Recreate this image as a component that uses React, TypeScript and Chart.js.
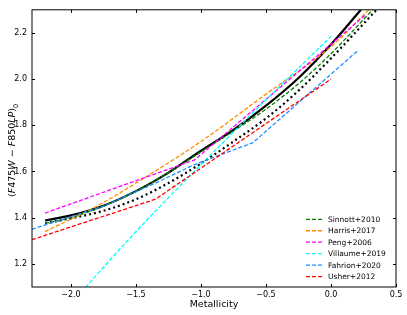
import React, { useEffect, useRef } from 'react';
import { Chart, registerables } from 'chart.js';
Chart.register(...registerables);

// ---- tick labels ----
const xTicks = [-2.0, -1.5, -1.0, -0.5, 0.0, 0.5];
const yTicks = [1.2, 1.4, 1.6, 1.8, 2.0, 2.2];

// ---- series (Metallicity -> colour) ----
const blackSolidX = [-2.2, -2.0, -1.75, -1.5, -1.25, -1.0, -0.75, -0.5, -0.25, 0.0, 0.23];
const blackSolidY = [1.388, 1.41, 1.452, 1.515, 1.595, 1.69, 1.78, 1.885, 2.005, 2.15, 2.3];

const blackDotX = [-2.2, -1.75, -1.5, -1.25, -1.0, -0.75, -0.5, -0.25, 0.0, 0.35];
const blackDotY = [1.375, 1.43, 1.48, 1.55, 1.635, 1.73, 1.83, 1.95, 2.09, 2.3];

const sinnottX = [-2.2, -2.0, -1.75, -1.5, -1.25, -1.0, -0.75, -0.5, -0.25, 0.0, 0.32];
const sinnottY = [1.375, 1.4, 1.45, 1.515, 1.595, 1.685, 1.775, 1.87, 1.98, 2.11, 2.3];

const harrisX = [-2.2, -1.8, -1.5, -1.0, -0.5, 0.0, 0.29];
const harrisY = [1.34, 1.45, 1.55, 1.73, 1.935, 2.14, 2.3];

const pengX = [-2.2, -1.05, 0.27];
const pengY = [1.42, 1.65, 2.28];

const villaumeX = [-1.95, -1.5, -1.0, -0.5, 0.0];
const villaumeY = [1.06, 1.34, 1.63, 1.91, 2.185];

const fahrionX = [-2.3, -1.75, -1.35, -1.05, -0.6, 0.2];
const fahrionY = [1.35, 1.45, 1.55, 1.63, 1.725, 2.12];

const usherX = [-2.3, -1.35, 0.0];
const usherY = [1.305, 1.48, 2.0];

const legendLabels = ['Sinnott+2010', 'Harris+2017', 'Peng+2006', 'Villaume+2019', 'Fahrion+2020', 'Usher+2012'];
const legendColors = ['#008000', '#ff8c00', '#ff00ff', '#00ffff', '#1e90ff', '#ff0000'];

const FONT = "'DejaVu Sans', sans-serif";

export default function App() {
  const ref = useRef<HTMLCanvasElement>(null);

  useEffect(() => {
    document.body.style.margin = '0';
    const canvas = ref.current!;
    const fmt = (v: number) => {
      const s = Math.abs(v) < 1e-9 ? '0.0' : v.toFixed(1);
      return s.replace('-', '\u2212');
    };
    const pts = (xs: number[], ys: number[]) => xs.map((x, i) => ({ x, y: ys[i] }));

    const dashed = (label: string, xs: number[], ys: number[], color: string, order: number, smooth: boolean) => ({
      label,
      data: pts(xs, ys),
      borderColor: color,
      backgroundColor: color,
      borderWidth: 1.3,
      borderDash: [4, 2],
      pointRadius: 0,
      fill: false,
      clip: 0,
      order,
      cubicInterpolationMode: smooth ? 'monotone' : 'default',
      tension: 0,
    });

    const framePlugin = {
      id: 'frameAndLegend',
      afterDraw(chart: any) {
        const { ctx, chartArea } = chart;
        const { left, right, top, bottom } = chartArea;
        const xs = chart.scales.x;
        const ys = chart.scales.y;
        ctx.save();
        // frame
        ctx.strokeStyle = '#000';
        ctx.lineWidth = 1;
        ctx.setLineDash([]);
        ctx.strokeRect(left, top, right - left, bottom - top);
        // inward ticks on all sides
        const tl = 3;
        ctx.beginPath();
        for (const v of xTicks) {
          const px = Math.round(xs.getPixelForValue(v)) + 0.5;
          ctx.moveTo(px, bottom);
          ctx.lineTo(px, bottom - tl);
          ctx.moveTo(px, top);
          ctx.lineTo(px, top + tl);
        }
        for (const v of yTicks) {
          const py = Math.round(ys.getPixelForValue(v)) + 0.5;
          ctx.moveTo(left, py);
          ctx.lineTo(left + tl, py);
          ctx.moveTo(right, py);
          ctx.lineTo(right - tl, py);
        }
        ctx.stroke();

        // legend (inside, lower right)
        const lx0 = 306;
        const lx1 = 322;
        const tx = 328;
        const y0 = 219.3;
        const dy = 11.45;
        ctx.font = `7.5px ${FONT}`;
        ctx.textBaseline = 'middle';
        ctx.textAlign = 'left';
        legendLabels.forEach((lab, i) => {
          const y = y0 + i * dy;
          ctx.strokeStyle = legendColors[i];
          ctx.lineWidth = 1.3;
          ctx.setLineDash([4, 2]);
          ctx.beginPath();
          ctx.moveTo(lx0, y);
          ctx.lineTo(lx1, y);
          ctx.stroke();
          ctx.setLineDash([]);
          ctx.fillStyle = '#000';
          ctx.fillText(lab, tx, y + 0.5);
        });

        // y-axis title: (F475W − F850LP)_0
        const size = 9.5;
        const segs: { t: string; it: boolean; sub?: boolean }[] = [
          { t: '(', it: false },
          { t: 'F', it: true },
          { t: '475', it: false },
          { t: 'W', it: true },
          { t: ' \u2212 ', it: false },
          { t: 'F', it: true },
          { t: '850', it: false },
          { t: 'LP', it: true },
          { t: ')', it: false },
          { t: '0', it: false, sub: true },
        ];
        const fontOf = (s: any) => `${s.it ? 'italic ' : ''}${s.sub ? size * 0.7 : size}px ${FONT}`;
        let total = 0;
        const widths = segs.map((s) => {
          ctx.font = fontOf(s);
          const w = ctx.measureText(s.t).width;
          total += w;
          return w;
        });
        ctx.translate(13, (top + bottom) / 2 + 2);
        ctx.rotate(-Math.PI / 2);
        ctx.fillStyle = '#000';
        ctx.textBaseline = 'middle';
        let cx = -total / 2;
        segs.forEach((s, i) => {
          ctx.font = fontOf(s);
          ctx.fillText(s.t, cx, s.sub ? 2.8 : 0);
          cx += widths[i];
        });
        ctx.restore();
      },
    };

    const chart = new Chart(canvas, {
      type: 'line',
      data: {
        datasets: [
          {
            label: 'solid',
            data: pts(blackSolidX, blackSolidY),
            borderColor: '#000',
            backgroundColor: '#000',
            borderWidth: 2.2,
            pointRadius: 0,
            fill: false,
            clip: 0,
            order: 9,
            cubicInterpolationMode: 'monotone',
          },
          {
            label: 'dotted',
            data: pts(blackDotX, blackDotY),
            borderColor: '#000',
            backgroundColor: '#000',
            borderWidth: 2.2,
            borderDash: [2, 3],
            pointRadius: 0,
            fill: false,
            clip: 0,
            order: 8,
            cubicInterpolationMode: 'monotone',
          },
          dashed(legendLabels[0], sinnottX, sinnottY, legendColors[0], 7, true),
          dashed(legendLabels[1], harrisX, harrisY, legendColors[1], 6, true),
          dashed(legendLabels[2], pengX, pengY, legendColors[2], 5, false),
          dashed(legendLabels[3], villaumeX, villaumeY, legendColors[3], 4, true),
          dashed(legendLabels[4], fahrionX, fahrionY, legendColors[4], 3, false),
          dashed(legendLabels[5], usherX, usherY, legendColors[5], 2, false),
        ] as any,
      },
      options: {
        animation: false,
        responsive: false,
        maintainAspectRatio: false,
        layout: { padding: { left: 0, right: 11, top: 5, bottom: 0 } },
        plugins: { legend: { display: false }, tooltip: { enabled: false } },
        scales: {
          x: {
            type: 'linear',
            min: -2.3,
            max: 0.5,
            grid: { display: false, drawTicks: false, tickLength: 0 },
            border: { display: false },
            afterBuildTicks: (s: any) => {
              s.ticks = xTicks.map((v) => ({ value: v }));
            },
            afterFit: (s: any) => {
              s.height = 28;
            },
            ticks: {
              color: '#000',
              font: { family: FONT, size: 8 },
              padding: 3,
              autoSkip: false,
              maxRotation: 0,
              callback: (v: any) => fmt(Number(v)),
            },
            title: {
              display: true,
              text: 'Metallicity',
              color: '#000',
              font: { family: FONT, size: 9.5 },
              padding: { top: 0, bottom: 5 },
            },
          },
          y: {
            type: 'linear',
            min: 1.1,
            max: 2.3,
            grid: { display: false, drawTicks: false, tickLength: 0 },
            border: { display: false },
            afterBuildTicks: (s: any) => {
              s.ticks = yTicks.map((v) => ({ value: v }));
            },
            afterFit: (s: any) => {
              s.width = 32;
            },
            ticks: {
              color: '#000',
              font: { family: FONT, size: 8 },
              padding: 5,
              autoSkip: false,
              callback: (v: any) => fmt(Number(v)),
            },
          },
        },
      } as any,
      plugins: [framePlugin],
    });
    return () => chart.destroy();
  }, []);

  return (
    <canvas
      ref={ref}
      width={407}
      height={315}
      style={{ display: 'block', width: 407, height: 315 }}
    />
  );
}
